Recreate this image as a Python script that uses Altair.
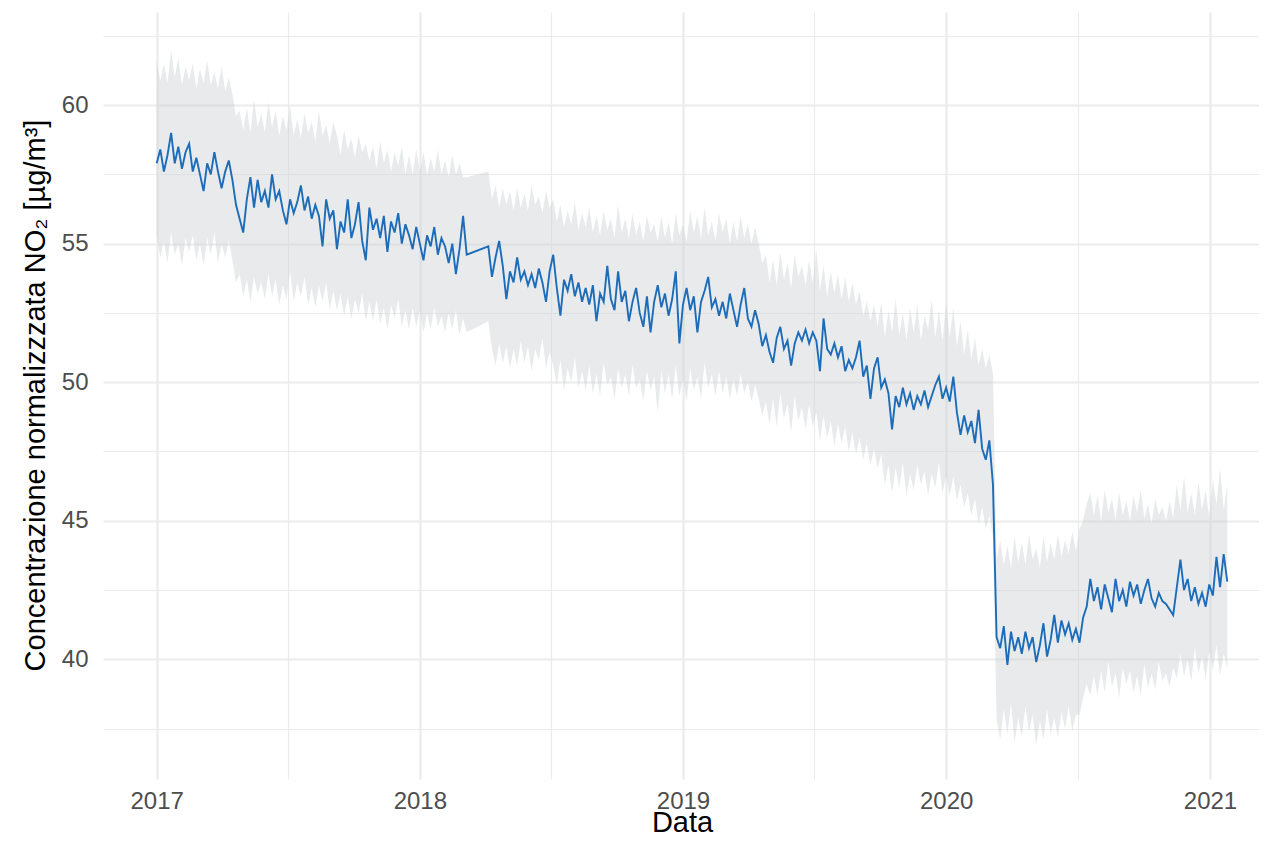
import altair as alt
import pandas as pd

# ---- data (one value every 5 days from 2017-01-01) ----
start_date = "2017-01-01"
step_days = 5

no2 = [
    57.9, 58.4, 57.6, 58.2, 59.0, 57.9, 58.5, 57.7, 58.3, 58.6,
    57.6, 58.1, 57.5, 56.9, 57.9, 57.5, 58.3, 57.6, 57.0, 57.6,
    58.0, 57.3, 56.4, 55.9, 55.4, 56.6, 57.4, 56.3, 57.3, 56.5,
    56.9, 56.3, 57.5, 56.6, 56.9, 56.2, 55.7, 56.6, 56.1, 56.5,
    57.1, 56.2, 56.7, 55.9, 56.4, 56.0, 54.9, 56.6, 55.9, 56.2,
    54.8, 55.8, 55.4, 56.6, 55.2, 55.7, 56.5, 55.1, 54.4, 56.3,
    55.5, 55.9, 55.2, 56.0, 54.7, 55.8, 55.4, 56.1, 55.0, 55.7,
    55.3, 54.8, 55.6, 55.0, 54.4, 55.3, 54.9, 55.6, 54.6, 55.2,
    54.9, 54.3, 55.0, 53.9, 54.8, 56.0, 54.6, None, None, None,
    None, None, 54.9, 53.8, 54.5, 55.1, 54.2, 53.0, 54.0, 53.6,
    54.5, 53.7, 54.0, 53.5, 53.9, 53.4, 54.1, 53.6, 52.9, 54.0,
    54.6, 53.4, 52.4, 53.7, 53.3, 53.9, 53.1, 53.6, 52.9, 53.4,
    52.8, 53.5, 52.2, 53.2, 52.9, 54.2, 53.0, 52.6, 54.0, 52.9,
    53.3, 52.2, 52.9, 53.4, 52.5, 52.0, 53.1, 51.8, 52.9, 53.5,
    52.7, 53.2, 52.4, 53.0, 54.0, 51.4, 52.8, 53.4, 52.6, 53.1,
    51.8, 52.9, 53.3, 53.8, 52.7, 53.0, 52.4, 52.9, 52.3, 53.2,
    52.6, 52.0, 52.8, 53.4, 52.3, 52.0, 52.6, 52.1, 51.3, 51.7,
    51.1, 50.7, 51.6, 52.0, 51.2, 51.5, 50.6, 51.4, 51.8, 51.5,
    51.9, 51.4, 51.8, 51.5, 50.4, 52.3, 51.2, 51.0, 51.4, 50.9,
    51.3, 50.4, 50.8, 50.5, 50.9, 51.5, 50.2, 50.6, 49.4, 50.5,
    50.9, 49.8, 50.1, 49.6, 48.3, 49.5, 49.1, 49.8, 49.2, 49.6,
    49.0, 49.5, 49.2, 49.7, 49.1, 49.5, 49.9, 50.2, 49.4, 49.8,
    49.3, 50.2, 48.9, 48.1, 48.8, 48.2, 48.6, 47.8, 49.0, 47.6,
    47.2, 47.9, 46.3, 40.8, 40.4, 41.2, 39.8, 41.0, 40.3, 40.8,
    40.2, 41.0, 40.4, 40.8, 39.9, 40.5, 41.3, 40.1, 40.7, 41.6,
    40.6, 41.4, 40.9, 41.3, 40.7, 41.1, 40.6, 41.5, 41.9, 42.9,
    42.1, 42.6, 41.8, 42.7, 42.2, 41.7, 42.9, 42.1, 42.5, 41.9,
    42.8, 42.3, 42.7, 42.0, 42.5, 42.9, 42.2, 41.9, 42.4, 42.1,
    42.0, 41.8, 41.6, 42.6, 43.6, 42.5, 42.9, 42.1, 42.6, 42.0,
    42.4, 41.9, 42.7, 42.3, 43.7, 42.6, 43.8, 42.8,
]

upper = [
    61.6, 60.9, 61.5, 60.8, 62.0, 61.0, 61.7, 60.7, 61.4, 60.9,
    61.5, 60.6, 61.3, 60.8, 61.6, 60.7, 61.2, 60.6, 61.4, 60.5,
    61.0, 60.4, 59.6, 59.8, 59.1, 59.9, 59.0, 60.2, 59.2, 59.7,
    59.0, 60.1, 59.2, 59.8, 58.9, 59.6, 59.1, 60.0, 58.9, 59.5,
    58.8, 59.7, 59.0, 59.4, 58.7, 59.8, 58.9, 59.3, 58.6, 59.4,
    58.9, 58.2, 59.1, 58.4, 58.8, 58.1, 58.9, 58.3, 58.6, 58.0,
    58.5, 57.7, 58.7, 57.9, 58.4, 57.6, 58.3, 57.8, 58.5, 57.5,
    58.2, 57.5, 58.4, 57.6, 58.3, 57.5, 58.1, 57.6, 58.4, 57.5,
    58.0, 57.4, 58.2, 57.5, 57.9, 57.4, 57.4, None, None, None,
    None, None, 57.6, 56.6, 57.1, 56.3, 57.0, 56.4, 56.9, 56.2,
    57.0, 56.3, 56.8, 56.2, 57.1, 56.4, 56.7, 56.1, 56.9, 56.3,
    56.6, 55.8, 56.4, 55.6, 56.2, 55.7, 56.5, 55.5, 56.1, 55.6,
    56.3, 55.4, 56.0, 55.3, 56.2, 55.5, 55.9, 55.2, 56.4, 55.4,
    55.9, 55.2, 56.1, 55.3, 55.8, 55.1, 56.0, 55.4, 55.7, 55.1,
    56.0, 55.2, 55.8, 55.0, 56.1, 55.3, 55.7, 55.1, 56.2, 55.4,
    56.0, 55.2, 56.3, 55.3, 55.8, 55.1, 56.1, 55.4, 55.9, 55.0,
    55.8, 55.1, 56.0, 55.2, 55.7, 55.0, 55.6, 55.0, 54.3, 54.6,
    53.6, 54.4, 53.5, 54.7, 53.7, 54.3, 53.4, 54.6, 53.8, 54.2,
    53.5, 54.4, 53.6, 54.8, 53.3, 54.2, 53.1, 54.0, 53.2, 53.9,
    53.0, 53.8, 52.9, 53.6, 52.8, 53.3, 52.4, 52.9, 52.2, 52.8,
    52.0, 52.9, 51.6, 52.6, 51.8, 53.0, 51.7, 52.5, 51.5, 52.7,
    51.8, 52.8, 51.5, 52.4, 51.9, 53.0, 51.6, 52.6, 51.5, 52.9,
    51.6, 52.7, 51.3, 52.2, 51.0, 51.9, 50.8, 51.6, 50.6, 51.2,
    50.5, 51.0, 50.3, 43.6, 44.3, 43.4, 44.1, 43.3, 44.4, 43.5,
    44.2, 43.4, 44.5, 43.6, 44.0, 43.3, 44.4, 43.5, 44.2, 43.6,
    44.5, 43.7, 44.3, 43.8, 44.6, 43.9, 44.7, 45.0, 45.6, 46.0,
    45.2, 45.9, 45.0, 46.1, 45.3, 45.8, 45.0, 46.0, 45.2, 45.7,
    45.0, 45.9, 45.3, 46.1, 45.1, 45.6, 44.9, 45.8, 45.2, 45.5,
    45.0, 45.7, 45.1, 46.3, 45.4, 46.6, 45.3, 46.0, 45.2, 46.4,
    45.4, 46.1, 45.1, 46.5, 45.6, 46.9, 45.4, 46.3,
]

lower = [
    55.3, 54.5, 55.1, 54.3, 55.4, 54.6, 55.0, 54.2, 55.2, 54.7,
    55.3, 54.4, 55.0, 54.2, 55.2, 54.6, 55.4, 54.3, 55.0, 54.5,
    55.1, 54.4, 53.6, 53.9, 53.1, 53.7, 52.9, 53.8, 53.2, 53.6,
    53.0, 53.9, 53.1, 53.7, 52.8, 53.5, 53.0, 54.0, 52.9, 53.6,
    53.1, 53.8, 52.8, 53.4, 52.7, 53.5, 52.9, 53.6, 52.6, 53.3,
    52.6, 53.2, 52.4, 53.1, 52.3, 53.0, 52.5, 53.2, 52.2, 52.9,
    52.2, 53.0, 52.1, 52.7, 51.9, 52.8, 52.3, 53.0, 52.0, 52.6,
    51.9, 52.7, 52.0, 52.6, 51.8, 52.5, 51.9, 52.7, 52.0, 52.4,
    51.8, 52.5, 51.9, 52.6, 51.7, 52.3, 51.8, None, None, None,
    None, None, 52.2, 51.2, 50.6, 51.4, 50.7, 51.3, 50.5, 51.2,
    50.6, 51.5, 50.7, 51.3, 50.4, 51.2, 50.8, 51.6, 50.5, 51.1,
    50.6, 49.9, 50.8, 49.7, 50.5, 50.0, 50.9, 49.8, 50.4, 49.7,
    50.6, 49.6, 50.3, 49.5, 50.7, 49.9, 50.2, 49.4, 50.5, 49.8,
    50.3, 49.5, 50.6, 49.8, 50.1, 49.3, 50.4, 49.7, 50.2, 48.9,
    50.4, 49.6, 50.3, 49.4, 50.6, 49.5, 50.1, 49.3, 50.5, 49.7,
    50.2, 49.4, 50.7, 49.8, 50.3, 49.5, 50.4, 49.6, 50.2, 49.4,
    50.1, 49.5, 50.3, 49.6, 50.0, 49.3, 49.9, 49.4, 48.8, 49.3,
    48.5, 49.4, 48.4, 49.6, 48.7, 49.2, 48.2, 49.5, 48.6, 49.1,
    48.3, 49.2, 48.4, 48.9, 47.9, 48.8, 48.0, 48.6, 47.7, 48.5,
    47.8, 48.4, 47.5, 48.2, 47.4, 48.0, 47.2, 47.8, 47.0, 47.6,
    46.9, 47.4, 46.3, 47.0, 46.0, 46.9, 46.2, 47.1, 45.9, 46.7,
    46.1, 47.0, 46.3, 46.8, 45.9, 46.7, 46.2, 47.1, 46.0, 46.6,
    45.9, 46.6, 45.7, 46.3, 45.5, 46.0, 45.2, 45.8, 44.9, 45.5,
    44.7, 45.2, 44.4, 37.8, 37.1, 38.2, 37.3, 38.4, 37.0, 37.9,
    37.2, 38.3, 37.4, 38.0, 36.9, 37.8, 37.1, 38.2, 37.3, 37.9,
    37.2, 38.1, 37.5, 38.3, 37.4, 38.0, 38.0, 38.6, 39.1, 38.7,
    39.4, 38.7, 39.6, 38.8, 39.9, 39.0, 39.5, 38.6, 39.7, 39.1,
    39.6, 38.8, 39.4, 38.7, 39.8, 39.0, 39.5, 38.9, 39.9, 39.2,
    39.5, 39.0, 39.7, 39.3, 40.2, 39.4, 40.0, 39.2, 40.4, 39.5,
    40.1, 39.3, 40.3, 39.6, 40.5, 39.4, 40.2, 39.7,
]

year_ticks = [2017, 2018, 2019, 2020, 2021]
mid_year_ticks = [2017, 2018, 2019, 2020]
y_ticks = [37.5, 40, 42.5, 45, 47.5, 50, 52.5, 55, 57.5, 60, 62.5]

assert len(no2) == len(upper) == len(lower)

dates = pd.date_range(start_date, periods=len(no2), freq=f"{step_days}D")
df = pd.DataFrame({"Data": dates, "no2": no2, "upper": upper, "lower": lower}).dropna()

FONT = "Liberation Sans"
GRID = "#EBEBEB"

x_values = [alt.DateTime(year=y, month=1, date=1) for y in year_ticks] + \
           [alt.DateTime(year=y, month=7, date=2) for y in mid_year_ticks]

x_scale = alt.Scale(
    domain=[alt.DateTime(year=2016, month=10, date=18, hours=12),
            alt.DateTime(year=2021, month=3, date=10)],
    nice=False,
)
y_scale = alt.Scale(domain=[35.68, 63.36], nice=False, zero=False)

x_axis = alt.Axis(
    values=x_values,
    labelExpr="month(datum.value) === 0 ? timeFormat(datum.value, '%Y') : ''",
    grid=True, gridColor=GRID,
    gridWidth={"condition": {"test": "month(datum.value) === 0", "value": 2.2}, "value": 1.2},
    domain=False, ticks=False, tickSize=0,
    labelFont=FONT, labelFontSize=24, labelColor="#4D4D4D", labelPadding=10,
    labelFlush=False, labelOverlap=False,
    title="Data", titleFont=FONT, titleFontSize=29, titleFontWeight="normal",
    titleColor="#000000", titleX=579, titleY=52, titleBaseline="alphabetic",
)
y_axis = alt.Axis(
    values=y_ticks,
    labelExpr="datum.value % 5 === 0 ? datum.label : ''",
    grid=True, gridColor=GRID,
    gridWidth={"condition": {"test": "datum.value % 5 === 0", "value": 2.2}, "value": 1.2},
    domain=False, ticks=False, tickSize=0,
    labelFont=FONT, labelFontSize=24, labelColor="#4D4D4D", labelPadding=15,
    labelOverlap=False,
    title="Concentrazione normalizzzata NO₂ [µg/m³]",
    titleFont=FONT, titleFontSize=29, titleFontWeight="normal", titleColor="#000000",
    titleX=-59, titleY=383, titleBaseline="alphabetic", titleAngle=270,
)

base = alt.Chart(df)

ribbon = base.mark_area(color="#CDD0D4", opacity=0.45, line=False).encode(
    x=alt.X("Data:T", scale=x_scale, axis=x_axis),
    y=alt.Y("upper:Q", scale=y_scale, axis=y_axis),
    y2="lower:Q",
)

line = base.mark_line(color="#1C6CB9", strokeWidth=1.9).encode(
    x=alt.X("Data:T", scale=x_scale),
    y=alt.Y("no2:Q", scale=y_scale),
)

chart = (ribbon + line).properties(
    width=1156,
    height=767,
    autosize=alt.AutoSizeParams(type="none"),
    padding={"left": 95, "top": 4, "right": 0, "bottom": 58},
    background="white",
).configure_view(stroke=None)

chart.save("out.html", embed_options={"renderer": "svg", "actions": False})
